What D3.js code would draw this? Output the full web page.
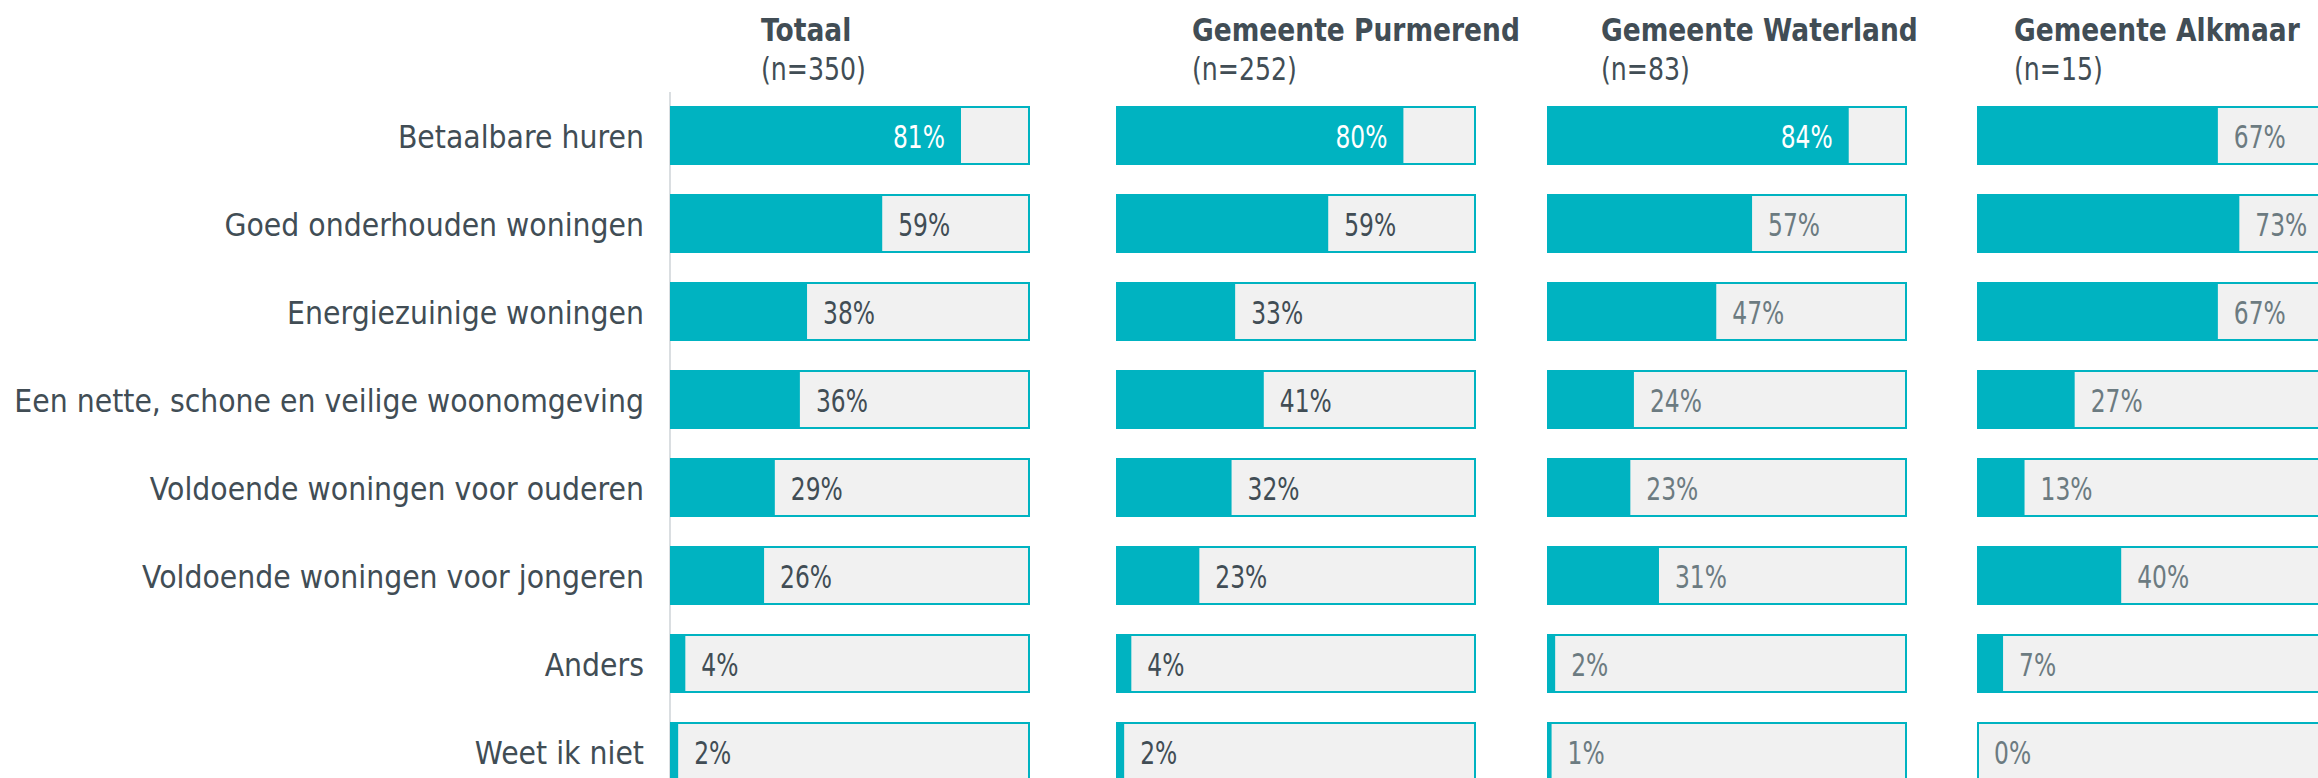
<!DOCTYPE html>
<html>
<head>
<meta charset="utf-8">
<script src="https://cdn.jsdelivr.net/npm/d3@7"></script>
<style>
  html, body { margin: 0; padding: 0; background: #ffffff; }
  svg { display: block; }
</style>
</head>
<body>
<svg id="chart" width="2318" height="778"></svg>
<script>
// ---------- data ----------
const categories = [
  "Betaalbare huren",
  "Goed onderhouden woningen",
  "Energiezuinige woningen",
  "Een nette, schone en veilige woonomgeving",
  "Voldoende woningen voor ouderen",
  "Voldoende woningen voor jongeren",
  "Anders",
  "Weet ik niet"
];
const groupNames = ["Totaal", "Gemeente Purmerend", "Gemeente Waterland", "Gemeente Alkmaar"];
const groupN = ["(n=350)", "(n=252)", "(n=83)", "(n=15)"];
const totaal    = [81, 59, 38, 36, 29, 26, 4, 2];
const purmerend = [80, 59, 33, 41, 32, 23, 4, 2];
const waterland = [84, 57, 47, 24, 23, 31, 2, 1];
const alkmaar   = [67, 73, 67, 27, 13, 40, 7, 0];
const seriesValues = [totaal, purmerend, waterland, alkmaar];

// ---------- layout / style ----------
const W = 2318, H = 778;
const panelX = [671, 1117, 1548, 1978];
const titleX = [761, 1192, 1601, 2014];
const barW = 358;
const teal = "#00B3C1";
const boxFill = "#F1F1F1";
const darkText = "#414D55";
const lightText = "#6C7B81";
const labelColor = [darkText, darkText, lightText, lightText];
const FONT = "'DejaVu Sans', Verdana, sans-serif";
const FS = 32;

const svg = d3.select("#chart");

// text horizontal fit helper
function measure(str, weight) {
  const t = svg.append("text")
    .attr("font-family", FONT).attr("font-size", FS)
    .attr("font-weight", weight || "normal")
    .text(str);
  const w = t.node().getComputedTextLength();
  t.remove();
  return w;
}
const sLabel = 630 / measure("Een nette, schone en veilige woonomgeving");
const sValue = 52 / measure("36%");
const sTitle = 328 / measure("Gemeente Purmerend", "bold");
const sN = 105 / measure("(n=252)");

function addText(g, x, y, str, opts) {
  g.append("text")
    .attr("transform", `translate(${x},${y}) scale(${opts.s},1)`)
    .attr("font-family", FONT)
    .attr("font-size", FS)
    .attr("font-weight", opts.weight || "normal")
    .attr("text-anchor", opts.anchor || "start")
    .attr("fill", opts.fill)
    .text(str);
}

// scales
const y = d3.scaleBand()
  .domain(categories)
  .range([107, 107 + 88 * (categories.length - 31 / 88)])
  .paddingInner(31 / 88)
  .paddingOuter(0);
const x = d3.scaleLinear().domain([0, 100]).range([0, barW]);

// axis line for first panel
svg.append("line")
  .attr("x1", panelX[0] - 1).attr("x2", panelX[0] - 1)
  .attr("y1", 92).attr("y2", H)
  .attr("stroke", "#DADEE1").attr("stroke-width", 2);

// category labels
const labG = svg.append("g");
categories.forEach(c => {
  addText(labG, 644, y(c) + y.bandwidth() / 2 + 12, c,
    { s: sLabel, anchor: "end", fill: darkText });
});

// panels
seriesValues.forEach((vals, gi) => {
  const g = svg.append("g").attr("transform", `translate(${panelX[gi]},0)`);
  // titles
  addText(svg, titleX[gi], 41, groupNames[gi], { s: sTitle, weight: "bold", fill: darkText });
  addText(svg, titleX[gi], 80, groupN[gi], { s: sN, fill: darkText });

  const rows = g.selectAll("g.row").data(categories.map((c, i) => ({ c, v: vals[i] })))
    .join("g").attr("class", "row");
  rows.append("rect")
    .attr("x", x(0)).attr("y", d => y(d.c))
    .attr("width", x(100) - x(0)).attr("height", y.bandwidth())
    .attr("fill", boxFill).attr("stroke", teal).attr("stroke-width", 2);
  rows.append("rect")
    .attr("x", x(0) - 1).attr("y", d => y(d.c) - 1)
    .attr("width", d => Math.max(0, x(d.v) - x(0) + (d.v > 0 ? 1 : 0)))
    .attr("height", y.bandwidth() + 2)
    .attr("fill", teal);
  rows.each(function(d) {
    const inside = d.v >= 75;
    const cy = y(d.c) + y.bandwidth() / 2 + 12;
    if (inside) {
      addText(d3.select(this), x(d.v) - 16, cy, d.v + "%", { s: sValue, anchor: "end", fill: "#FFFFFF" });
    } else {
      addText(d3.select(this), x(d.v) + 16, cy, d.v + "%", { s: sValue, anchor: "start", fill: labelColor[gi] });
    }
  });
});
</script>
</body>
</html>
